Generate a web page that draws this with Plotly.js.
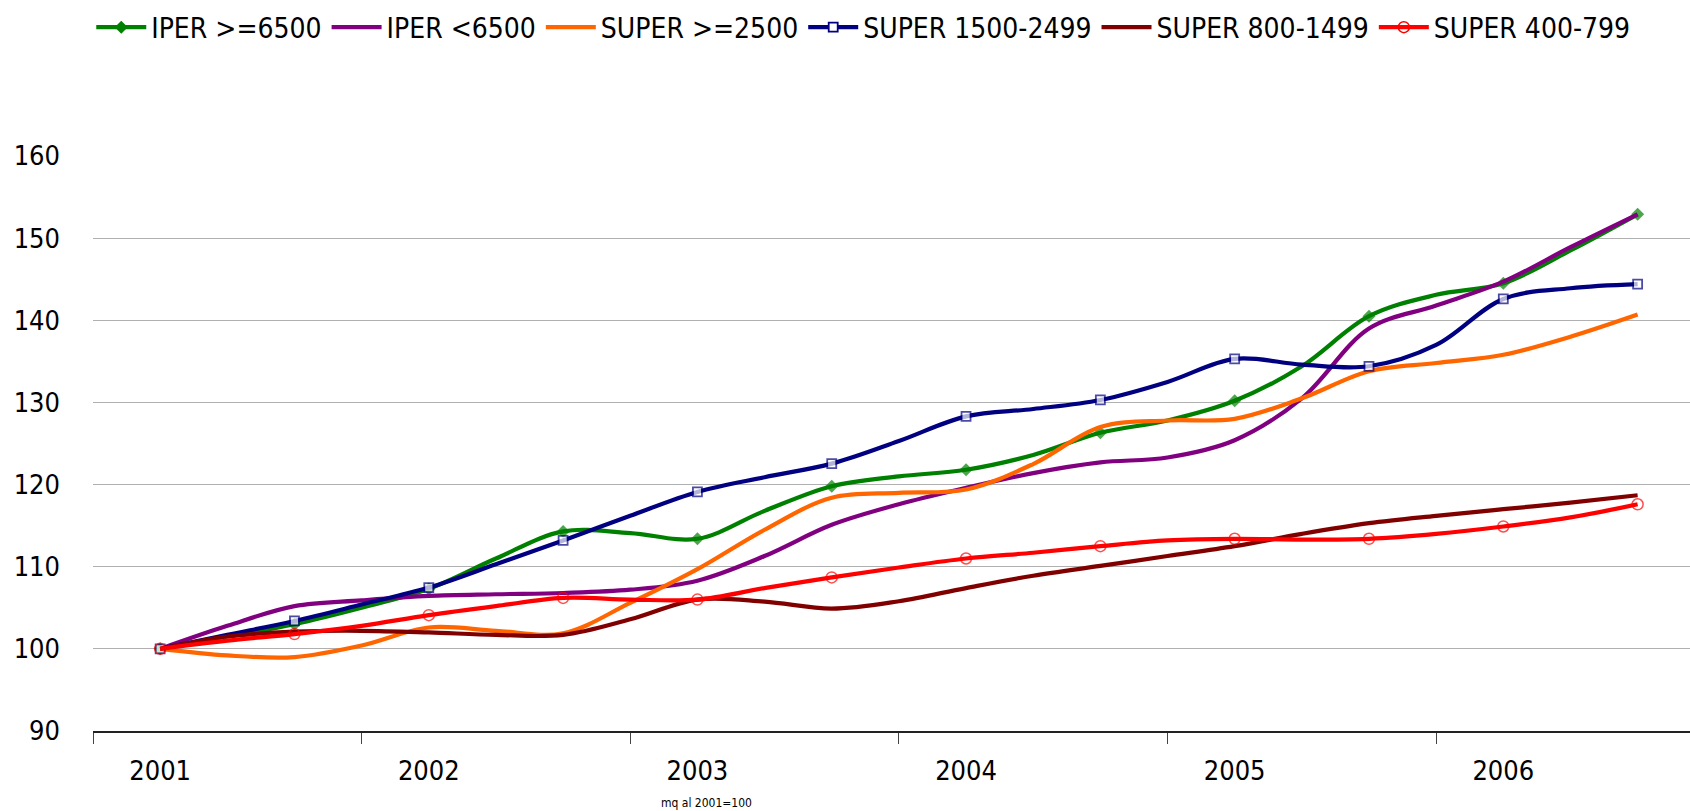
<!DOCTYPE html>
<html><head><meta charset="utf-8">
<script src="https://cdn.plot.ly/plotly-3.0.1.min.js"></script>
<style>html,body{margin:0;padding:0;background:#fff}#chart{width:1690px;height:811px}</style>
</head><body><div id="chart"></div>
<script>
// Quarterly periods (fractional years); markers every half-year
const periods = [2001, 2001.25, 2001.5, 2001.75, 2002, 2002.25, 2002.5, 2002.75, 2003, 2003.25, 2003.5, 2003.75,
                 2004, 2004.25, 2004.5, 2004.75, 2005, 2005.25, 2005.5, 2005.75, 2006, 2006.25, 2006.5];
const yearTicks = [2001, 2002, 2003, 2004, 2005, 2006];
const yearLabels = ['2001', '2002', '2003', '2004', '2005', '2006'];

const iperHigh  = [100, 101.5, 103.0, 105.0, 107.3, 111.0, 114.3, 114.1, 113.4, 116.8, 119.8, 121.0, 121.8, 123.6, 126.3, 127.8, 130.2, 134.4, 140.5, 143.1, 144.5, 148.5, 152.9];
const iperLow   = [100, 102.8, 105.2, 105.9, 106.45, 106.65, 106.8, 107.2, 108.3, 111.3, 115.1, 117.6, 119.6, 121.4, 122.7, 123.3, 125.4, 130.5, 139.0, 141.8, 144.7, 148.9, 152.9];
const super2500 = [100, 99.2, 99.0, 100.4, 102.6, 102.2, 101.9, 105.6, 109.7, 114.5, 118.4, 119.0, 119.4, 122.5, 127.0, 127.8, 128.0, 130.5, 133.8, 134.8, 135.8, 138.0, 140.7];
const super1500 = [100, 101.7, 103.4, 105.4, 107.46, 110.3, 113.2, 116.2, 119.1, 120.9, 122.55, 125.3, 128.3, 129.2, 130.3, 132.5, 135.3, 134.6, 134.4, 137.0, 142.6, 143.9, 144.4];
const super800  = [100, 101.5, 102.1, 102.2, 102.0, 101.7, 101.7, 103.6, 106.0, 105.75, 104.9, 105.8, 107.4, 108.9, 110.1, 111.3, 112.5, 114.0, 115.3, 116.2, 117.0, 117.8, 118.7];
const super400  = [100, 101.0, 101.8, 102.8, 104.1, 105.2, 106.2, 106.0, 106.0, 107.4, 108.7, 109.9, 111.0, 111.7, 112.5, 113.2, 113.4, 113.3, 113.4, 114.0, 114.9, 116.0, 117.6];

const seriesNames = ['IPER >=6500', 'IPER <6500', 'SUPER >=2500', 'SUPER 1500-2499', 'SUPER 800-1499', 'SUPER 400-799'];
const seriesValues = [iperHigh, iperLow, super2500, super1500, super800, super400];

const styles = [
  {color: '#008000', marker: {symbol: 'diamond', color: '#008000', line: {width: 0}}, ms: 10},
  {color: '#800080', marker: null},
  {color: '#FF6600', marker: null},
  {color: '#000080', marker: {symbol: 'square', color: '#FFFFFF', line: {color: '#000080', width: 1.8}}, ms: 9},
  {color: '#800000', marker: null},
  {color: '#FF0000', marker: {symbol: 'circle-open', color: '#FF0000', line: {color: '#FF0000', width: 1.5}}, ms: 11}
];

const FONT = '"DejaVu Sans Condensed", "Liberation Sans Narrow", "DejaVu Sans", sans-serif';
const traces = [];
seriesValues.forEach((vals, i) => {
  const st = styles[i];
  const t = {
    x: periods, y: vals, name: seriesNames[i], type: 'scatter',
    mode: st.marker ? 'lines+markers' : 'lines',
    line: {color: st.color, width: 4.2, shape: 'spline', smoothing: 1},
    showlegend: false, hoverinfo: 'x+y+name'
  };
  if (st.marker) {
    t.marker = Object.assign({}, st.marker, {size: periods.map((p, j) => j % 2 === 0 ? st.ms : 0)});
  }
  traces.push(t);
});
// legend entries
seriesValues.forEach((vals, i) => {
  const st = styles[i];
  const t = {
    x: [null], y: [null], name: seriesNames[i], type: 'scatter',
    mode: st.marker ? 'lines+markers' : 'lines',
    line: {color: st.color, width: 4.2}, showlegend: true
  };
  if (st.marker) t.marker = Object.assign({}, st.marker, {size: st.ms});
  traces.push(t);
});

const layout = {
  width: 1690, height: 811,
  paper_bgcolor: '#FFFFFF', plot_bgcolor: '#FFFFFF',
  margin: {l: 93, r: 0, t: 156, b: 80, pad: 0},
  font: {family: FONT, size: 27, color: '#000000'},
  showlegend: true,
  legend: {orientation: 'h', xref: 'container', yref: 'container', x: 0.054, y: 0.997, xanchor: 'left', yanchor: 'top',
           font: {family: FONT, size: 28, color: '#000000'}, itemwidth: 50, bgcolor: 'rgba(0,0,0,0)'},
  xaxis: {
    range: [2000.75, 2006.695], tickmode: 'array', tickvals: yearTicks, ticktext: yearLabels,
    ticks: '', showgrid: false, zeroline: false, showline: true, linecolor: '#222222', linewidth: 1.5,
    ticklabelstandoff: 15, tickfont: {family: FONT, size: 27, color: '#000000'},
    minor: {tickmode: 'array', tickvals: [2000.75, 2001.75, 2002.75, 2003.75, 2004.75, 2005.75], ticks: 'outside', ticklen: 11, tickcolor: '#444444', tickwidth: 1, showgrid: false}
  },
  yaxis: {
    range: [90, 160], tickmode: 'array', tickvals: [90, 100, 110, 120, 130, 140, 150, 160],
    showgrid: true, gridcolor: '#B0B0B0', gridwidth: 1, zeroline: false, showline: false, ticks: '',
    ticklabelstandoff: 32, tickfont: {family: FONT, size: 27, color: '#000000'}
  },
  annotations: [{
    text: 'mq al 2001=100', xref: 'paper', yref: 'paper', x: 0.384, y: -0.125, xanchor: 'center', yanchor: 'middle',
    showarrow: false, font: {family: FONT, size: 12, color: '#000000'}
  }]
};

Plotly.newPlot('chart', traces, layout, {displayModeBar: false, staticPlot: true});
</script>
</body></html>
